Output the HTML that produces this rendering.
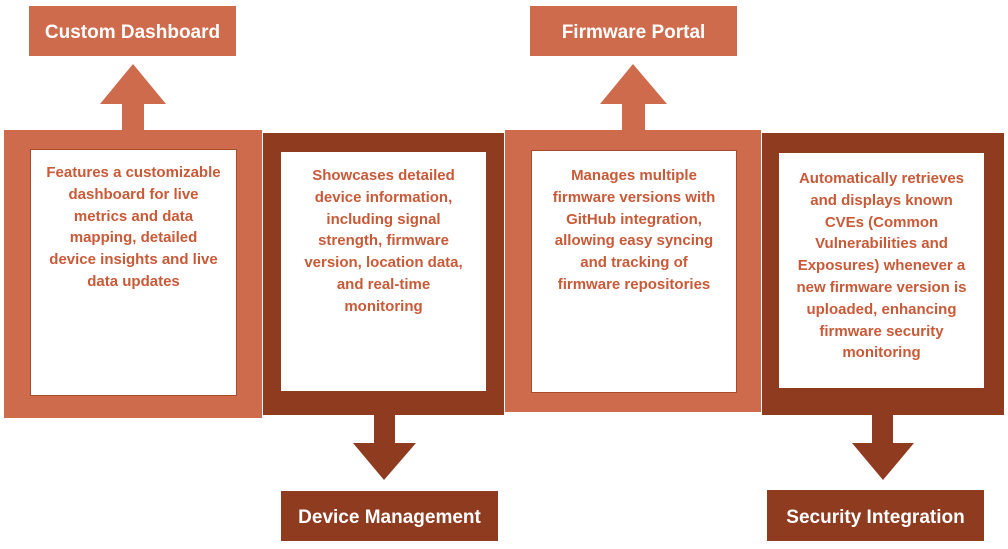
<!DOCTYPE html>
<html><head><meta charset="utf-8"><style>
*{margin:0;padding:0;box-sizing:border-box}
body{width:1008px;height:549px;background:#fff;position:relative;overflow:hidden;font-family:"Liberation Sans",sans-serif}
.a{position:absolute}
.lt{background:#CE6B4C}
.dk{background:#8E3B20}
.in{position:absolute;background:#fff;border:1px solid #A84A2C}
.txt{position:absolute;text-align:center;color:#C85A38;font-weight:bold;font-size:15px;line-height:21.8px}
.lbl{position:absolute;color:#fff;font-weight:bold;font-size:19px;display:flex;align-items:center;justify-content:center;padding-top:4px}
</style></head><body>
<div class="lbl lt" style="left:29px;top:6px;width:207px;height:50px">Custom Dashboard</div>
<div class="lbl lt" style="left:530px;top:6px;width:207px;height:50px">Firmware Portal</div>
<div class="lbl dk" style="left:281px;top:491px;width:217px;height:50px">Device Management</div>
<div class="lbl dk" style="left:767px;top:490px;width:217px;height:51px">Security Integration</div>

<svg class="a" style="left:0;top:0" width="1008" height="549">
<polygon points="133,64 166,104 144,104 144,131 122,131 122,104 100,104" fill="#CE6B4C"/>
<polygon points="633,64 667,104 645,104 645,131 622,131 622,104 600,104" fill="#CE6B4C"/>
<polygon points="374,414 395,414 395,443 416,443 384,480 353,443 374,443" fill="#8E3B20"/>
<polygon points="872,414 893,414 893,443 914,443 883,480 852,443 872,443" fill="#8E3B20"/>
</svg>

<div class="a lt" style="left:4px;top:130px;width:258px;height:288px"></div>
<div class="in" style="left:30px;top:149px;width:207px;height:247px"></div>
<div class="a dk" style="left:263px;top:133px;width:241px;height:282px"></div>
<div class="in" style="left:281px;top:152px;width:205px;height:239px;border:none"></div>
<div class="a lt" style="left:505px;top:130px;width:256px;height:282px"></div>
<div class="in" style="left:531px;top:150px;width:206px;height:243px"></div>
<div class="a dk" style="left:762px;top:133px;width:242px;height:282px"></div>
<div class="in" style="left:779px;top:153px;width:205px;height:235px;border:none"></div>

<div class="txt" style="left:30px;top:162px;width:207px">Features a customizable<br>dashboard for live<br>metrics and data<br>mapping, detailed<br>device insights and live<br>data updates</div>
<div class="txt" style="left:281px;top:165px;width:205px">Showcases detailed<br>device information,<br>including signal<br>strength, firmware<br>version, location data,<br>and real-time<br>monitoring</div>
<div class="txt" style="left:531px;top:165px;width:206px">Manages multiple<br>firmware versions with<br>GitHub integration,<br>allowing easy syncing<br>and tracking of<br>firmware repositories</div>
<div class="txt" style="left:779px;top:168px;width:205px">Automatically retrieves<br>and displays known<br>CVEs (Common<br>Vulnerabilities and<br>Exposures) whenever a<br>new firmware version is<br>uploaded, enhancing<br>firmware security<br>monitoring</div>
</body></html>
